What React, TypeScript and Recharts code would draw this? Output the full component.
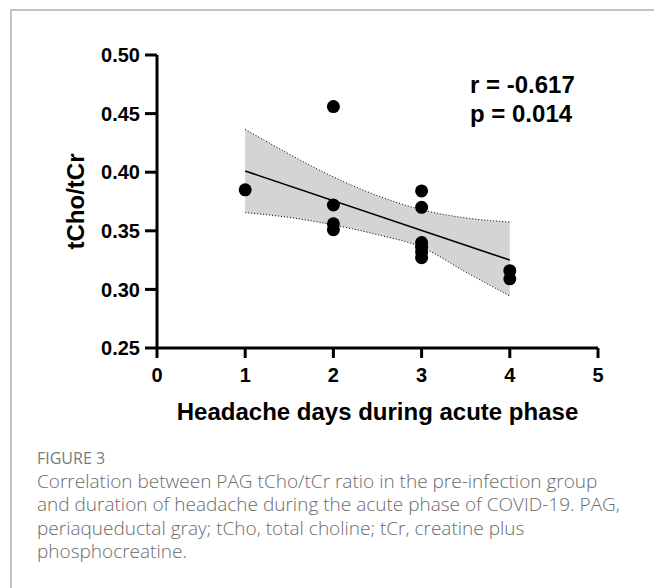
import React from 'react';
import { ComposedChart, Scatter, Line, Area, XAxis, YAxis } from 'recharts';

// Observed data points (headache days, tCho/tCr)
const pointDays = [1, 2, 2, 2, 2, 3, 3, 3, 3, 3, 3, 4, 4];
const pointRatio = [0.385, 0.456, 0.372, 0.356, 0.351, 0.384, 0.370, 0.340, 0.336, 0.332, 0.327, 0.316, 0.309];

// Regression line end points
const fitDays = [1, 4];
const fitRatio = [0.401, 0.325];

// 95% confidence band
const bandDays = [1, 1.5, 2, 2.5, 3, 3.5, 4];
const bandUpper = [0.4366, 0.4154, 0.396, 0.380, 0.368, 0.361, 0.3575];
const bandLower = [0.3655, 0.3614, 0.355, 0.3467, 0.336, 0.3148, 0.2944];

const xTicks = [0, 1, 2, 3, 4, 5];
const yTicks = [0.25, 0.3, 0.35, 0.4, 0.45, 0.5];

const statLines = ['r = -0.617', 'p = 0.014'];
const figureLabel = 'FIGURE 3';
const captionLines = [
  'Correlation between PAG tCho/tCr ratio in the pre-infection group',
  'and duration of headache during the acute phase of COVID-19. PAG,',
  'periaqueductal gray; tCho, total choline; tCr, creatine plus',
  'phosphocreatine.',
];

const points = pointDays.map((x, i) => ({ x, y: pointRatio[i] }));
const fit = fitDays.map((x, i) => ({ x, fit: fitRatio[i] }));
const band = bandDays.map((x, i) => ({ x, band: [bandLower[i], bandUpper[i]], hi: bandUpper[i], lo: bandLower[i] }));

const AX_FONT = '"Liberation Sans", Arial, Helvetica, sans-serif';
const CAP_FONT = '"Open Sans", "Noto Sans", sans-serif';

const Dot = (props: any) => <circle cx={props.cx} cy={props.cy} r={6.5} fill="#000" />;

export default function App() {
  return (
    <div style={{ position: 'absolute', left: 0, top: 0, width: 654, height: 588, background: '#fff', overflow: 'hidden' }}>
      <div style={{ position: 'absolute', left: 10, top: 9, width: 800, height: 800, borderLeft: '2px solid #c4c4c4', borderTop: '2px solid #c4c4c4' }} />
      <div style={{ position: 'absolute', left: 0, top: 0 }}>
        <ComposedChart width={654} height={440} margin={{ top: 55, right: 56, left: 0, bottom: 0 }}>
          <XAxis
            type="number"
            dataKey="x"
            domain={[0, 5]}
            ticks={xTicks}
            allowDataOverflow
            height={92}
            axisLine={{ stroke: '#000', strokeWidth: 3 }}
            tickLine={{ stroke: '#000', strokeWidth: 3 }}
            tickSize={10}
            tickMargin={10}
            tick={{ fill: '#000', fontSize: 20, fontWeight: 700, fontFamily: AX_FONT }}
            label={{
              content: (p: any) => {
                const vb = p.viewBox || { x: 157, y: 348, width: 441 };
                return (
                  <text x={vb.x + vb.width / 2} y={vb.y + 72} textAnchor="middle" fill="#000" fontSize={24} fontWeight={700} fontFamily={AX_FONT}>
                    Headache days during acute phase
                  </text>
                );
              },
            }}
          />
          <YAxis
            type="number"
            domain={[0.25, 0.5]}
            ticks={yTicks}
            allowDataOverflow
            width={157}
            tickFormatter={(v: number) => v.toFixed(2)}
            axisLine={{ stroke: '#000', strokeWidth: 3 }}
            tickLine={{ stroke: '#000', strokeWidth: 3 }}
            tickSize={12}
            tickMargin={5}
            tick={{ fill: '#000', fontSize: 20, fontWeight: 700, fontFamily: AX_FONT }}
            label={{
              content: (p: any) => {
                const vb = p.viewBox || { x: 0, y: 55, height: 293 };
                const cx = vb.x + 75;
                const cy = vb.y + vb.height / 2;
                return (
                  <text x={cx} y={cy} transform={`rotate(-90 ${cx} ${cy})`} textAnchor="middle" dominantBaseline="central" fill="#000" fontSize={24} fontWeight={700} fontFamily={AX_FONT}>
                    tCho/tCr
                  </text>
                );
              },
            }}
          />
          <Area data={band} dataKey="band" type="monotone" fill="#d4d4d4" fillOpacity={1} stroke="none" isAnimationActive={false} />
          <Line data={band} dataKey="hi" type="monotone" stroke="#000" strokeWidth={1} strokeDasharray="1 2" dot={false} isAnimationActive={false} />
          <Line data={band} dataKey="lo" type="monotone" stroke="#000" strokeWidth={1} strokeDasharray="1 2" dot={false} isAnimationActive={false} />
          <Line data={fit} dataKey="fit" type="linear" stroke="#000" strokeWidth={1.6} dot={false} isAnimationActive={false} />
          <Scatter data={points} dataKey="y" fill="#000" shape={Dot} isAnimationActive={false} />
        </ComposedChart>
      </div>
      <svg style={{ position: 'absolute', left: 0, top: 0 }} width={654} height={588}>
        {statLines.map((s, i) => (
          <text key={s} x={470} y={93 + i * 29} fill="#000" fontSize={24} fontWeight={700} fontFamily={AX_FONT}>
            {s}
          </text>
        ))}
        <text x={37} y={464} fill="#7a7a7a" fontSize={16} fontWeight={500} fontFamily={CAP_FONT}>
          {figureLabel}
        </text>
        {captionLines.map((s, i) => (
          <text key={i} x={37} y={487.5 + i * 23.5} fill="#6b6b6b" fontSize={19} fontWeight={300} fontFamily={CAP_FONT}>
            {s}
          </text>
        ))}
      </svg>
    </div>
  );
}
